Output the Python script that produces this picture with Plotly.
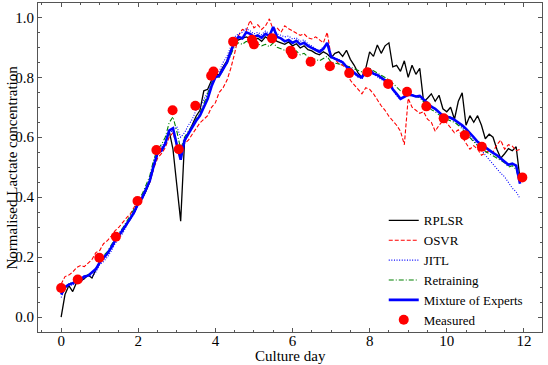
import plotly.graph_objects as go

# sampling days of the soft-sensor predictions
days = [0.0, 0.1, 0.2, 0.3, 0.4, 0.5, 0.6, 0.7, 0.8, 0.9,
        1.0, 1.1, 1.2, 1.3, 1.4, 1.5, 1.6, 1.7, 1.8, 1.9,
        2.0, 2.1, 2.2, 2.3, 2.4, 2.5, 2.6, 2.7, 2.8, 2.9,
        3.0, 3.1, 3.2, 3.3, 3.4, 3.5, 3.6, 3.7, 3.8, 3.9,
        4.0, 4.1, 4.2, 4.3, 4.4, 4.5, 4.6, 4.7, 4.8, 4.9,
        5.0, 5.1, 5.2, 5.3, 5.4, 5.5, 5.6, 5.7, 5.8, 5.9,
        6.0, 6.1, 6.2, 6.3, 6.4, 6.5, 6.6, 6.7, 6.8, 6.9,
        7.0, 7.1, 7.2, 7.3, 7.4, 7.5, 7.6, 7.7, 7.8, 7.9,
        8.0, 8.1, 8.2, 8.3, 8.4, 8.5, 8.6, 8.7, 8.8, 8.9,
        9.0, 9.1, 9.2, 9.3, 9.4, 9.5, 9.6, 9.7, 9.8, 9.9,
        10.0, 10.1, 10.2, 10.3, 10.4, 10.5, 10.6, 10.7, 10.8, 10.9,
        11.0, 11.1, 11.2, 11.3, 11.4, 11.5, 11.6, 11.7, 11.8, 11.9]

rplsr = [0.000, 0.075, 0.105, 0.085, 0.115, 0.120, 0.128, 0.140, 0.130, 0.155,
         0.185, 0.198, 0.212, 0.232, 0.255, 0.272, 0.288, 0.308, 0.328, 0.350,
         0.378, 0.395, 0.420, 0.452, 0.500, 0.545, 0.558, 0.580, 0.622, 0.560,
         0.440, 0.320, 0.585, 0.615, 0.640, 0.670, 0.690, 0.755, 0.760, 0.790,
         0.808, 0.810, 0.835, 0.855, 0.890, 0.918, 0.925, 0.930, 0.935, 0.930,
         0.925, 0.930, 0.920, 0.935, 0.925, 0.930, 0.920, 0.915, 0.910, 0.918,
         0.905, 0.912, 0.898, 0.905, 0.892, 0.888, 0.880, 0.875, 0.885, 0.878,
         0.865, 0.880, 0.885, 0.870, 0.890, 0.860, 0.840, 0.815, 0.800, 0.830,
         0.885, 0.870, 0.908, 0.880, 0.905, 0.915, 0.835, 0.840, 0.820, 0.855,
         0.800, 0.840, 0.810, 0.830, 0.718, 0.730, 0.745, 0.720, 0.740, 0.695,
         0.685, 0.700, 0.660, 0.720, 0.748, 0.640, 0.672, 0.650, 0.672, 0.640,
         0.595, 0.610, 0.600, 0.560, 0.530, 0.545, 0.562, 0.555, 0.568, 0.460]

osvr = [0.110, 0.135, 0.140, 0.150, 0.165, 0.172, 0.168, 0.180, 0.192, 0.215,
        0.222, 0.245, 0.255, 0.270, 0.288, 0.300, 0.318, 0.332, 0.345, 0.368,
        0.385, 0.400, 0.425, 0.450, 0.495, 0.530, 0.545, 0.565, 0.600, 0.615,
        0.570, 0.565, 0.580, 0.590, 0.610, 0.630, 0.648, 0.660, 0.672, 0.700,
        0.715, 0.750, 0.765, 0.790, 0.830, 0.880, 0.940, 0.960, 0.955, 0.990,
        0.965, 0.975, 0.960, 0.972, 0.995, 0.958, 0.965, 0.950, 0.972, 0.962,
        0.955, 0.948, 0.940, 0.945, 0.932, 0.928, 0.935, 0.925, 0.915, 0.950,
        0.870, 0.860, 0.845, 0.840, 0.830, 0.790, 0.775, 0.760, 0.745, 0.765,
        0.760, 0.745, 0.725, 0.705, 0.690, 0.670, 0.655, 0.640, 0.620, 0.575,
        0.730, 0.700, 0.690, 0.680, 0.685, 0.660, 0.650, 0.620, 0.640, 0.655,
        0.648, 0.630, 0.615, 0.625, 0.600, 0.580, 0.560, 0.572, 0.560, 0.540,
        0.548, 0.555, 0.550, 0.575, 0.590, 0.560, 0.575, 0.570, 0.555, 0.560]

jitl = [0.065, 0.095, 0.110, 0.105, 0.120, 0.118, 0.128, 0.140, 0.135, 0.150,
        0.175, 0.185, 0.200, 0.220, 0.245, 0.262, 0.280, 0.305, 0.328, 0.345,
        0.375, 0.392, 0.420, 0.455, 0.500, 0.540, 0.565, 0.590, 0.610, 0.625,
        0.635, 0.600, 0.615, 0.640, 0.660, 0.690, 0.700, 0.725, 0.750, 0.785,
        0.815, 0.820, 0.850, 0.870, 0.905, 0.935, 0.945, 0.950, 0.962, 0.955,
        0.945, 0.950, 0.942, 0.955, 0.945, 0.960, 0.945, 0.940, 0.935, 0.938,
        0.928, 0.932, 0.920, 0.925, 0.912, 0.905, 0.895, 0.890, 0.900, 0.912,
        0.870, 0.865, 0.860, 0.852, 0.838, 0.830, 0.812, 0.800, 0.795, 0.815,
        0.822, 0.810, 0.802, 0.795, 0.785, 0.780, 0.760, 0.738, 0.725, 0.745,
        0.748, 0.742, 0.738, 0.735, 0.720, 0.708, 0.705, 0.692, 0.682, 0.675,
        0.672, 0.668, 0.660, 0.645, 0.632, 0.618, 0.605, 0.590, 0.572, 0.558,
        0.540, 0.525, 0.508, 0.495, 0.480, 0.468, 0.448, 0.430, 0.418, 0.395]

retraining = [0.080, 0.100, 0.110, 0.115, 0.122, 0.128, 0.135, 0.142, 0.148, 0.162,
              0.190, 0.205, 0.218, 0.240, 0.262, 0.280, 0.298, 0.318, 0.340, 0.362,
              0.390, 0.410, 0.440, 0.472, 0.525, 0.560, 0.575, 0.600, 0.648, 0.668,
              0.620, 0.560, 0.600, 0.620, 0.640, 0.660, 0.680, 0.712, 0.745, 0.780,
              0.805, 0.800, 0.825, 0.845, 0.875, 0.905, 0.915, 0.910, 0.920, 0.915,
              0.910, 0.912, 0.905, 0.910, 0.902, 0.915, 0.900, 0.895, 0.890, 0.895,
              0.882, 0.888, 0.875, 0.880, 0.868, 0.862, 0.860, 0.855, 0.862, 0.870,
              0.850, 0.848, 0.845, 0.842, 0.838, 0.835, 0.828, 0.822, 0.818, 0.825,
              0.830, 0.822, 0.815, 0.808, 0.800, 0.792, 0.780, 0.768, 0.755, 0.752,
              0.748, 0.742, 0.735, 0.732, 0.718, 0.705, 0.692, 0.685, 0.675, 0.665,
              0.660, 0.655, 0.650, 0.640, 0.628, 0.612, 0.598, 0.585, 0.572, 0.562,
              0.552, 0.545, 0.538, 0.530, 0.522, 0.515, 0.500, 0.505, 0.492, 0.450]

moe = [0.075, 0.100, 0.108, 0.112, 0.118, 0.125, 0.135, 0.138, 0.150, 0.160,
       0.182, 0.198, 0.212, 0.232, 0.255, 0.272, 0.290, 0.310, 0.330, 0.352,
       0.380, 0.398, 0.425, 0.455, 0.505, 0.548, 0.555, 0.578, 0.622, 0.630,
       0.575, 0.525, 0.590, 0.612, 0.632, 0.655, 0.672, 0.700, 0.728, 0.770,
       0.800, 0.805, 0.830, 0.850, 0.885, 0.920, 0.935, 0.930, 0.950, 0.945,
       0.935, 0.940, 0.932, 0.945, 0.938, 0.968, 0.935, 0.930, 0.920, 0.925,
       0.915, 0.922, 0.910, 0.915, 0.905, 0.898, 0.890, 0.885, 0.895, 0.915,
       0.868, 0.862, 0.855, 0.850, 0.835, 0.828, 0.815, 0.805, 0.800, 0.820,
       0.825, 0.812, 0.808, 0.800, 0.790, 0.785, 0.760, 0.745, 0.728, 0.735,
       0.742, 0.740, 0.736, 0.738, 0.725, 0.712, 0.702, 0.695, 0.685, 0.672,
       0.668, 0.665, 0.658, 0.650, 0.640, 0.628, 0.615, 0.600, 0.585, 0.575,
       0.565, 0.555, 0.548, 0.540, 0.530, 0.520, 0.508, 0.512, 0.505, 0.445]

# offline lactate measurements
meas_days = [0.0, 0.43, 0.99, 1.42, 1.98, 2.47, 2.89, 3.05, 3.48, 3.89, 3.95,
             4.46, 4.95, 5.0, 5.47, 5.95, 6.0, 6.47, 6.97, 7.47, 7.94,
             8.48, 8.97, 9.47, 9.92, 10.47, 10.91, 11.96]
meas_vals = [0.097, 0.125, 0.198, 0.268, 0.387, 0.557, 0.690, 0.560, 0.705, 0.805, 0.819,
             0.919, 0.925, 0.910, 0.930, 0.889, 0.877, 0.852, 0.837, 0.814, 0.817,
             0.778, 0.752, 0.703, 0.663, 0.607, 0.568, 0.466]

FONT = "Liberation Serif"

fig = go.Figure()
fig.add_trace(go.Scatter(x=days, y=rplsr, mode='lines', name='RPLSR',
                         line=dict(color='black', width=1.3)))
fig.add_trace(go.Scatter(x=days, y=osvr, mode='lines', name='OSVR',
                         line=dict(color='red', width=1.1, dash='4px,2px')))
fig.add_trace(go.Scatter(x=days, y=jitl, mode='lines', name='JITL',
                         line=dict(color='blue', width=1.1, dash='1px,1.6px')))
fig.add_trace(go.Scatter(x=days, y=retraining, mode='lines', name='Retraining',
                         line=dict(color='green', width=1.1, dash='5px,2px,1px,2px')))
fig.add_trace(go.Scatter(x=days, y=moe, mode='lines', name='Mixture of Experts',
                         line=dict(color='blue', width=2.6)))
fig.add_trace(go.Scatter(x=meas_days, y=meas_vals, mode='markers', name='Measured',
                         marker=dict(color='red', size=10, line=dict(width=0))))

axis_style = dict(showline=True, linecolor='#555', linewidth=1, mirror='allticks',
                  ticks='inside', ticklen=4, tickcolor='#555', tickwidth=1,
                  showgrid=False, zeroline=False, automargin=False,
                  tickfont=dict(family=FONT, size=15, color='black'))

fig.update_xaxes(range=[-0.6, 12.47], tickvals=[0, 2, 4, 6, 8, 10, 12],
                 minor=dict(dtick=0.5, tick0=0, ticks='inside', ticklen=2, tickcolor='#555'),
                 ticklabelstandoff=-5,
                 **axis_style)
fig.update_yaxes(range=[-0.05, 1.048], tickvals=[0.0, 0.2, 0.4, 0.6, 0.8, 1.0],
                 ticktext=['0.0', '0.2', '0.4', '0.6', '0.8', '1.0'],
                 minor=dict(dtick=0.05, tick0=0, ticks='inside', ticklen=2, tickcolor='#555'),
                 ticklabelstandoff=0,
                 **axis_style)

# axis titles as annotations so they sit exactly where the reference has them
fig.add_annotation(text='Culture day', xref='paper', yref='paper', x=0.5, y=0,
                   xanchor='center', yanchor='middle', yshift=-24, showarrow=False,
                   font=dict(family=FONT, size=15, color='black'))
fig.add_annotation(text='Normalised Lactate concentration', xref='paper', yref='paper',
                   x=0, y=0.5, xanchor='center', yanchor='middle', xshift=-27,
                   textangle=-90, showarrow=False,
                   font=dict(family=FONT, size=15, color='black'))

fig.update_layout(width=548, height=365,
                  margin=dict(l=38, r=6, t=3, b=33, autoexpand=False),
                  plot_bgcolor='white', paper_bgcolor='white',
                  legend=dict(x=0.686, y=0.385, xanchor='left', yanchor='top',
                              bgcolor='rgba(0,0,0,0)', borderwidth=0, itemwidth=30,
                              font=dict(family=FONT, size=13, color='black'),
                              tracegroupgap=0),
                  showlegend=True)

fig.write_html("out.html", config={'displayModeBar': False},
               post_script="document.body.style.margin='0';")
